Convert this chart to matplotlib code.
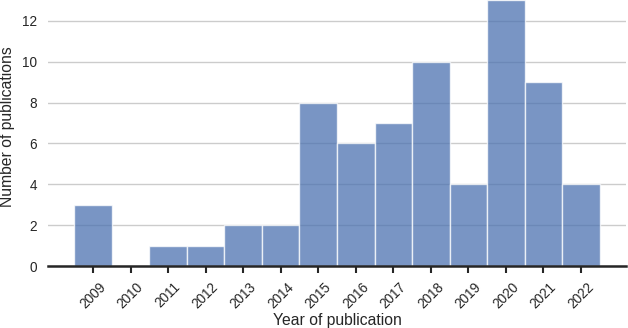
import matplotlib
matplotlib.use("Agg")
import matplotlib.pyplot as plt

# publications per year
years = [2009, 2010, 2011, 2012, 2013, 2014, 2015, 2016, 2017, 2018, 2019, 2020, 2021, 2022]
counts = [3, 0, 1, 1, 2, 2, 8, 6, 7, 10, 4, 13, 9, 4]
year_labels = [str(y) for y in years]

plt.rcParams["font.family"] = ["Liberation Sans", "DejaVu Sans"]

fig = plt.figure(figsize=(6.28, 3.28), dpi=100)
ax = fig.add_axes([48 / 628, 62 / 328, 578 / 628, 266 / 328])

ax.bar(years, counts, width=1.0, color="#4C72B0", alpha=0.75,
       edgecolor="white", linewidth=1.0)

ax.set_xlim(years[0] - 0.5 - 0.7, years[-1] + 0.5 + 0.7)
ax.set_ylim(0, 13.02)
ax.set_yticks([0, 2, 4, 6, 8, 10, 12])
ax.set_xticks(years)
ax.set_xticklabels(year_labels, rotation=45)

ax.set_axisbelow(True)
ax.yaxis.grid(True, color="#cccccc", linewidth=1.0)
for side in ["top", "right", "left"]:
    ax.spines[side].set_visible(False)
ax.spines["bottom"].set_color("#262626")
ax.spines["bottom"].set_linewidth(1.8)

ax.tick_params(axis="y", length=0, labelsize=9.8, colors="#262626", pad=8)
ax.tick_params(axis="x", length=5, width=1.5, color="#262626", labelsize=9.8,
               labelcolor="#262626", pad=5)

ax.set_xlabel("Year of publication", fontsize=11.3, color="#262626", labelpad=1.5)
ax.set_ylabel("Number of publications", fontsize=11.3, color="#262626")
ax.yaxis.set_label_coords(-0.057, 0.523)

fig.savefig("out.png", dpi=100)
